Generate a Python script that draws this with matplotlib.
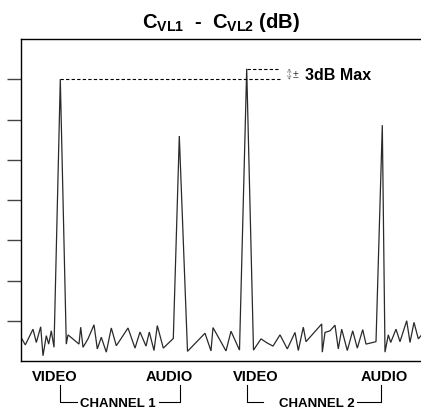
import matplotlib
matplotlib.use("Agg")
import matplotlib.pyplot as plt
import matplotlib.transforms as mtransforms

plt.rcParams['font.family'] = ['Liberation Sans', 'DejaVu Sans']
plt.rcParams['mathtext.fontset'] = 'custom'
plt.rcParams['mathtext.rm'] = 'Liberation Sans'
plt.rcParams['mathtext.bf'] = 'Liberation Sans:bold'

# Trace of C_VL1 - C_VL2 (position along sweep, level in dB-grid units)
trace_x = [0, 4.3, 12, 15.3, 19.7, 22, 25.3, 27.7, 30.3, 33,
           39.3,
           45.3, 47, 58, 59.7, 62, 67, 73, 76.3, 80.3, 85.3, 90.3, 95.3,
           102, 107, 114, 119, 125, 128.3, 133, 136.3, 142.3, 152.3,
           158.3,
           166.5, 184, 190, 192, 205, 210, 218.5,
           225.7,
           232.5, 240, 246, 252, 259, 266.3, 274, 277.3, 282.3, 285,
           300.7, 301.3, 304, 309, 314, 317.3, 320.7, 326.3, 331.7,
           336.3, 341.7, 345, 355,
           361.3,
           364, 367.3, 369.7, 375, 379, 385.7, 389, 393, 397.3, 400]
trace_y = [0.59, 0.40, 0.79, 0.46, 0.85, 0.13, 0.63, 0.42, 0.75, 0.34,
           7.00,
           0.42, 0.65, 0.42, 0.84, 0.34, 0.55, 0.90, 0.30, 0.59, 0.22, 0.82, 0.38,
           0.63, 0.82, 0.32, 0.72, 0.37, 0.72, 0.26, 0.88, 0.32, 0.56,
           5.59,
           0.24, 0.69, 0.25, 0.83, 0.25, 0.74, 0.27,
           7.26,
           0.27, 0.55, 0.45, 0.37, 0.65, 0.30, 0.71, 0.26, 0.84, 0.48,
           0.92, 0.22, 0.71, 0.75, 0.89, 0.30, 0.79, 0.26, 0.75,
           0.32, 0.78, 0.42, 0.48,
           5.86,
           0.22, 0.65, 0.46, 0.79, 0.48, 1.00, 0.46, 0.96, 0.55, 0.63]

peak_labels = ["VIDEO", "AUDIO", "VIDEO", "AUDIO"]
peak_label_x = [34, 148.5, 234.7, 363.5]
channel_names = ["CHANNEL 1", "CHANNEL 2"]
channel_text_x = [96.5, 295.7]
# bracket: (left vertical x, left horiz end, right horiz start, right vertical x)
channel_brackets = [(39.3, 56, 138, 159), (225.7, 242.3, 335.7, 359.7)]
y_ticks = [1, 2, 3, 4, 5, 6, 7]

fig = plt.figure(figsize=(4.21, 4.10), dpi=100)
ax = fig.add_axes([21 / 421, 48 / 410, 400 / 421, 322 / 410])
ax.set_xlim(0, 400)
ax.set_ylim(0, 8)

ax.plot(trace_x, trace_y, color='#2a2a2a', lw=0.9, solid_joinstyle='miter')

# dashed reference lines at the two video peaks
v1x, v1y = trace_x[10], trace_y[10]
v2x, v2y = trace_x[41], trace_y[41]
ax.plot([v1x, 259], [v1y, v1y], color='black', lw=0.8, dashes=(3, 2))
ax.plot([v2x, 257], [v2y, v2y], color='black', lw=0.8, dashes=(3, 2))

# small double arrow and text
ax.annotate('', xy=(268.3, v2y + 0.02), xytext=(268.3, v1y - 0.02),
            arrowprops=dict(arrowstyle='<->', lw=0.6, color='#666666',
                            linestyle=':', mutation_scale=6,
                            shrinkA=0, shrinkB=0))
ax.text(272, (v1y + v2y) / 2, '±', fontsize=7.5, color='#333333',
        ha='left', va='center')
ax.text(284, (v1y + v2y) / 2, '3dB Max', fontsize=11.5, fontweight='bold',
        ha='left', va='center')

ax.spines['right'].set_visible(False)
for s in ['left', 'top', 'bottom']:
    ax.spines[s].set_linewidth(1.0)
ax.set_xticks([])
ax.set_yticks(y_ticks)
ax.set_yticklabels([])
ax.tick_params(axis='y', direction='out', length=10, width=1.0, color='#444444')

ax.set_title(r'$\mathbf{C_{VL1}}$  -  $\mathbf{C_{VL2}}$ (dB)', fontsize=14.5,
             fontweight='bold', pad=9)

trans = mtransforms.blended_transform_factory(ax.transData, ax.transAxes)
for lab, lx in zip(peak_labels, peak_label_x):
    ax.text(lx, -0.046, lab, transform=trans, ha='center', va='center',
            fontsize=10.5, fontweight='bold', clip_on=False)

y_top, y_bot = -0.075, -0.128
for name, tx, (a, b, c, d) in zip(channel_names, channel_text_x, channel_brackets):
    ax.plot([a, a, b], [y_top, y_bot, y_bot], transform=trans, color='black',
            lw=0.8, clip_on=False)
    ax.plot([c, d, d], [y_bot, y_bot, y_top], transform=trans, color='black',
            lw=0.8, clip_on=False)
    ax.text(tx, -0.129, name, transform=trans, ha='center', va='center',
            fontsize=9.5, fontweight='bold', clip_on=False)

fig.savefig('out.png', dpi=100)
